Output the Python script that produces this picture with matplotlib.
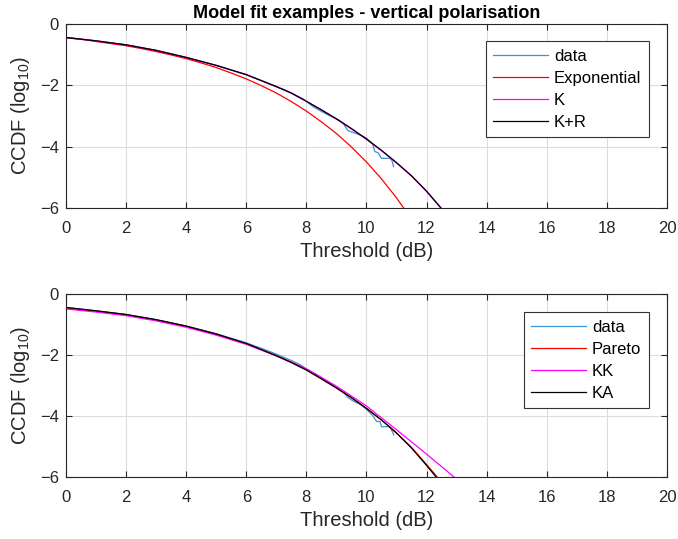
import matplotlib
matplotlib.use('Agg')
import matplotlib.pyplot as plt

plt.rcParams['font.family'] = ['Liberation Sans', 'DejaVu Sans']
plt.rcParams['mathtext.fontset'] = 'custom'
plt.rcParams['mathtext.rm'] = 'Liberation Sans'
plt.rcParams['mathtext.it'] = 'Liberation Sans'

# ---- top panel: vertical polarisation, exponential / K / K+R ----
top_data_x = [0, 1, 2, 3, 4, 5, 6, 6.5, 7, 7.3, 7.6, 7.9, 8.1, 8.23, 8.5, 8.79, 8.9,
              9.1, 9.23, 9.3, 9.39, 9.6, 9.78, 10.0, 10.12, 10.2, 10.28, 10.39,
              10.5, 10.78, 10.85, 10.9]
top_data_y = [-0.44, -0.55, -0.68, -0.86, -1.09, -1.35, -1.66, -1.85, -2.05, -2.16,
              -2.30, -2.45, -2.60, -2.70, -2.85, -3.00, -3.05, -3.15, -3.24, -3.36,
              -3.48, -3.55, -3.62, -3.72, -3.84, -3.90, -4.16, -4.20, -4.38, -4.38,
              -4.45, -4.65]

exp_x = [0, 0.5, 1, 1.5, 2, 2.5, 3, 3.5, 4, 4.5, 5, 5.5, 6, 6.5, 7, 7.5, 8, 8.5,
         9, 9.5, 10, 10.5, 11, 11.5]
exp_y = [-0.45, -0.50, -0.57, -0.64, -0.71, -0.80, -0.90, -1.01, -1.13, -1.27,
         -1.42, -1.60, -1.79, -2.01, -2.25, -2.53, -2.84, -3.19, -3.57, -4.01,
         -4.50, -5.05, -5.67, -6.36]

kr_x = [0, 1, 2, 3, 4, 5, 6, 7, 7.5, 8, 8.5, 9, 9.5, 10, 10.5, 11, 11.5, 12, 12.5]
k_y = [-0.44, -0.55, -0.68, -0.86, -1.09, -1.35, -1.65, -2.04, -2.26, -2.52,
       -2.80, -3.10, -3.42, -3.76, -4.13, -4.53, -4.96, -5.46, -6.03]
kr_y = [-0.44, -0.55, -0.68, -0.86, -1.09, -1.35, -1.65, -2.04, -2.25, -2.52,
        -2.80, -3.09, -3.41, -3.75, -4.12, -4.52, -4.95, -5.45, -6.02]

# ---- bottom panel: Pareto / KK / KA ----
bot_data_x = [0, 1, 2, 3, 4, 5, 6, 6.5, 7, 7.5, 7.8, 8.0, 8.3, 8.6, 9.0, 9.2, 9.39,
              9.56, 9.8, 10.0, 10.22, 10.34, 10.45, 10.5, 10.78, 10.91]
bot_data_y = [-0.44, -0.55, -0.67, -0.84, -1.05, -1.30, -1.60, -1.78, -1.97, -2.18,
              -2.32, -2.46, -2.62, -2.80, -3.06, -3.18, -3.40, -3.51, -3.62, -3.78,
              -4.00, -4.18, -4.18, -4.35, -4.35, -4.62]

ka_x = [0, 1, 2, 3, 4, 5, 6, 7, 7.5, 8, 8.5, 9, 9.5, 10, 10.5, 11, 11.5, 12, 12.4]
pareto_y = [-0.46, -0.56, -0.68, -0.85, -1.06, -1.32, -1.63, -2.03, -2.25, -2.49,
            -2.78, -3.08, -3.40, -3.75, -4.13, -4.55, -5.03, -5.59, -6.05]
ka_y = [-0.44, -0.55, -0.67, -0.84, -1.05, -1.31, -1.62, -2.02, -2.24, -2.49,
        -2.78, -3.08, -3.40, -3.75, -4.13, -4.56, -5.05, -5.62, -6.10]

kk_x = [0, 1, 2, 3, 4, 5, 6, 7, 8, 9, 10, 11, 12, 12.5, 13]
kk_y = [-0.49, -0.59, -0.71, -0.88, -1.09, -1.35, -1.65, -2.02, -2.45, -3.02,
        -3.67, -4.45, -5.25, -5.66, -6.07]

x_ticks = list(range(0, 21, 2))
y_ticks = [-6, -4, -2, 0]

BLUE = '#3b93d6'
AXIS_COLOR = '#262626'


def style_axes(ax):
    ax.set_xlim(0, 20)
    ax.set_ylim(-6, 0)
    ax.set_xticks(x_ticks)
    ax.set_yticks(y_ticks)
    ax.grid(True, color='#dcdcdc', linewidth=0.8)
    ax.set_axisbelow(True)
    ax.tick_params(direction='in', top=True, right=True, labelsize=12,
                   colors=AXIS_COLOR, length=4, width=0.8)
    ax.tick_params(axis='x', pad=9)
    ax.tick_params(axis='y', pad=5)
    for spine in ax.spines.values():
        spine.set_color(AXIS_COLOR)
        spine.set_linewidth(0.8)
    ax.set_xlabel('Threshold (dB)', fontsize=14.5, color=AXIS_COLOR, labelpad=5)
    ax.set_ylabel('CCDF (log$_{10}$)', fontsize=14.5, color=AXIS_COLOR, labelpad=6)


def add_legend(ax, anchor):
    leg = ax.legend(loc='upper right', bbox_to_anchor=anchor, fontsize=12,
                    frameon=True, fancybox=False, edgecolor='#333333',
                    framealpha=1, handlelength=3.3, handletextpad=0.35,
                    borderpad=0.45, labelspacing=0.42, borderaxespad=0)
    leg.get_frame().set_linewidth(0.8)
    return leg


fig = plt.figure(figsize=(6.78, 5.39), dpi=100)
ax1 = fig.add_axes([0.0973, 0.6141, 0.8864, 0.3414])
ax2 = fig.add_axes([0.0973, 0.1150, 0.8864, 0.3395])

lw = 0.9
ax1.plot(top_data_x, top_data_y, color=BLUE, lw=lw, label='data')
ax1.plot(exp_x, exp_y, color='red', lw=lw, label='Exponential')
ax1.plot(kr_x, k_y, color='magenta', lw=lw, label='K')
ax1.plot(kr_x, kr_y, color='black', lw=lw, label='K+R')
style_axes(ax1)
ax1.set_title('Model fit examples - vertical polarisation', fontsize=13,
              fontweight='bold', pad=4)
add_legend(ax1, (0.970, 0.905))

ax2.plot(bot_data_x, bot_data_y, color=BLUE, lw=lw, label='data')
ax2.plot(ka_x, pareto_y, color='red', lw=lw, label='Pareto')
ax2.plot(kk_x, kk_y, color='magenta', lw=lw, label='KK')
ax2.plot(ka_x, ka_y, color='black', lw=lw, label='KA')
style_axes(ax2)
add_legend(ax2, (0.970, 0.9))

fig.savefig('out.png', dpi=100)
plt.close(fig)
